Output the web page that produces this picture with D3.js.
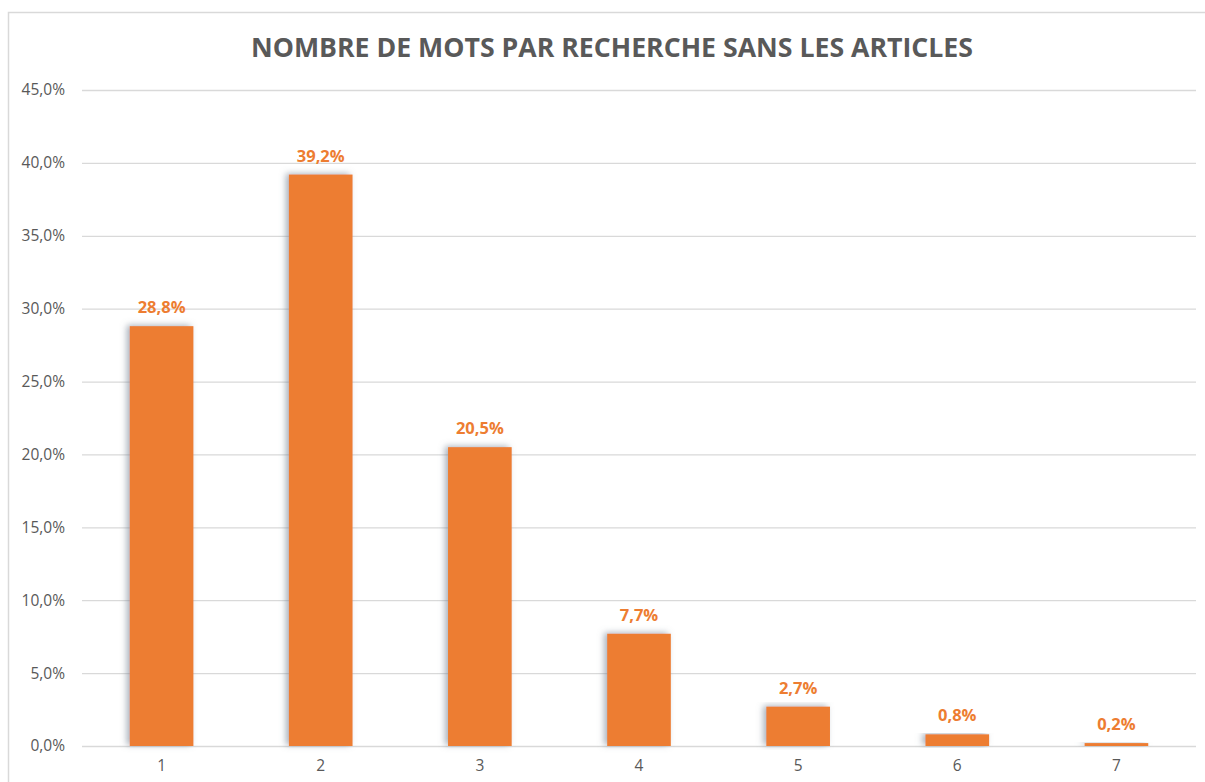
<!DOCTYPE html>
<html>
<head>
<meta charset="utf-8">
<script src="https://cdn.jsdelivr.net/npm/d3@7"></script>
<style>
  body { margin: 0; background: #fff; }
  svg text { font-family: "Open Sans", "Noto Sans", sans-serif; }
</style>
</head>
<body>
<div id="chart"></div>
<script>
// chart data
const categories = ["1", "2", "3", "4", "5", "6", "7"];
const values = [28.8, 39.2, 20.5, 7.7, 2.7, 0.8, 0.2];
const yTicks = [0, 5, 10, 15, 20, 25, 30, 35, 40, 45];
const title = "NOMBRE DE MOTS PAR RECHERCHE SANS LES ARTICLES";

const width = 1205;
const height = 782;
const margin = {top: 90, right: 9, bottom: 36, left: 82};

const svg = d3.select("#chart")
    .append("svg")
    .attr("width", width)
    .attr("height", height);

// soft shadow behind the bars
const defs = svg.append("defs");
const shadow = defs.append("filter")
    .attr("id", "barShadow")
    .attr("x", "-30%").attr("y", "-10%")
    .attr("width", "160%").attr("height", "120%");
shadow.append("feDropShadow")
    .attr("dx", -3)
    .attr("dy", -1)
    .attr("stdDeviation", 3)
    .attr("flood-color", "#6f7f8f")
    .attr("flood-opacity", 0.6);

// chart area border
svg.append("rect")
    .attr("x", 8.5)
    .attr("y", 12.5)
    .attr("width", width + 20)
    .attr("height", height + 20)
    .attr("fill", "none")
    .attr("stroke", "#d9d9d9")
    .attr("stroke-width", 1.5);

const xScale = d3.scaleBand()
    .domain(categories)
    .range([margin.left, width - margin.right])
    .paddingInner(0.6)
    .paddingOuter(0.3);

const yScale = d3.scaleLinear()
    .domain([0, 45])
    .range([height - margin.bottom, margin.top]);

// title
svg.append("text")
    .attr("x", 612)
    .attr("y", 57)
    .attr("text-anchor", "middle")
    .attr("font-size", 27)
    .attr("font-weight", "bold")
    .attr("fill", "#595959")
    .attr("textLength", 722)
    .attr("lengthAdjust", "spacingAndGlyphs")
    .text(title);

// y axis with gridlines
const yAxis = svg.append("g")
    .attr("transform", `translate(${margin.left},0)`)
    .call(d3.axisLeft(yScale)
        .tickValues(yTicks)
        .tickSize(-(width - margin.left - margin.right))
        .tickPadding(17)
        .tickFormat(d => d.toFixed(1).replace(".", ",") + "%"));
yAxis.select(".domain").remove();
yAxis.selectAll(".tick line")
    .attr("stroke", "#d9d9d9")
    .attr("stroke-width", 1.3);
yAxis.selectAll(".tick text")
    .attr("fill", "#595959")
    .attr("font-size", 15.5);

// x axis labels
const xAxis = svg.append("g")
    .attr("transform", `translate(0,${height - margin.bottom})`)
    .call(d3.axisBottom(xScale).tickSize(0).tickPadding(14));
xAxis.select(".domain").remove();
xAxis.selectAll(".tick text")
    .attr("fill", "#595959")
    .attr("font-size", 15.5);

// bars
svg.selectAll(".bar")
    .data(values)
    .enter()
    .append("rect")
    .attr("class", "bar")
    .attr("x", (d, i) => xScale(categories[i]))
    .attr("y", d => yScale(d))
    .attr("width", xScale.bandwidth())
    .attr("height", d => yScale(0) - yScale(d))
    .attr("fill", "#ed7d31")
    .attr("filter", "url(#barShadow)");

// value labels
svg.selectAll(".value-label")
    .data(values)
    .enter()
    .append("text")
    .attr("class", "value-label")
    .attr("x", (d, i) => xScale(categories[i]) + xScale.bandwidth() / 2)
    .attr("y", d => yScale(d) - 13)
    .attr("text-anchor", "middle")
    .attr("font-size", 16.5)
    .attr("font-weight", "bold")
    .attr("fill", "#ed7d31")
    .text(d => d.toFixed(1).replace(".", ",") + "%");
</script>
</body>
</html>
